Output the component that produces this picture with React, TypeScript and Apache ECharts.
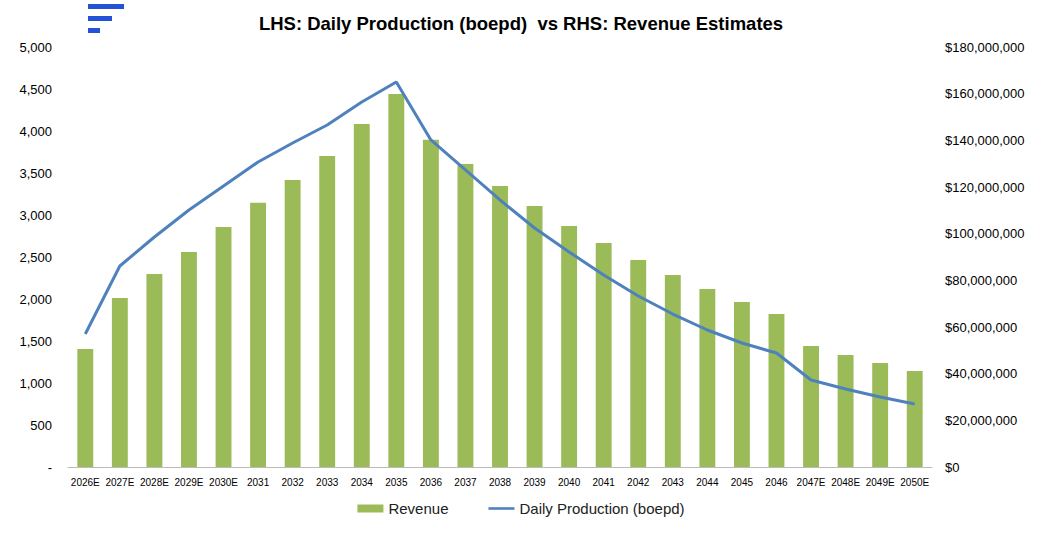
import { useEffect, useRef } from "react";
import * as echarts from "echarts";

const years = [
  "2026E", "2027E", "2028E", "2029E", "2030E", "2031", "2032", "2033", "2034", "2035",
  "2036", "2037", "2038", "2039", "2040", "2041", "2042", "2043", "2044", "2045",
  "2046", "2047E", "2048E", "2049E", "2050E",
];

// revenue, USD
const revenue = [
  50.6, 72.4, 82.7, 92.1, 102.9, 113.2, 123.0, 133.3, 147.0, 159.9,
  140.2, 129.9, 120.4, 111.9, 103.3, 96.0, 88.7, 82.3, 76.3, 70.7,
  65.6, 51.9, 48.0, 44.6, 41.1,
].map((v) => v * 1e6);

// daily production, boepd
const production = [
  1583, 2393, 2738, 3060, 3345, 3631, 3857, 4071, 4345, 4583,
  3893, 3536, 3179, 2845, 2560, 2286, 2036, 1821, 1631, 1476,
  1357, 1036, 929, 833, 750,
];

const font = "Liberation Sans, Arial, sans-serif";

export default function App() {
  const ref = useRef<HTMLDivElement | null>(null);

  useEffect(() => {
    if (!ref.current) return;
    const chart = echarts.init(ref.current, undefined, { renderer: "svg" });
    chart.setOption({
      animation: false,
      textStyle: { fontFamily: font },
      title: {
        text: "LHS: Daily Production (boepd)  vs RHS: Revenue Estimates",
        left: "center",
        top: 9,
        textStyle: { fontSize: 18.5, fontWeight: "bold", color: "#000", fontFamily: font },
      },
      graphic: [
        { type: "rect", shape: { x: 88, y: 4, width: 36, height: 5 }, style: { fill: "#2452d6" } },
        { type: "rect", shape: { x: 88, y: 16, width: 24, height: 5 }, style: { fill: "#2452d6" } },
        { type: "rect", shape: { x: 88, y: 28, width: 12, height: 5 }, style: { fill: "#2452d6" } },
      ],
      legend: {
        bottom: 12,
        left: "center",
        itemGap: 40,
        textStyle: { fontSize: 15, color: "#222", fontFamily: font },
        data: [
          { name: "Revenue", icon: "rect" },
          { name: "Daily Production (boepd)", icon: "path://M0,0H30V3H0Z" },
        ],
        itemWidth: 26,
        itemHeight: 8,
      },
      grid: { left: 68, right: 110, top: 47, bottom: 66 },
      xAxis: {
        type: "category",
        data: years,
        axisLine: { lineStyle: { color: "#bbb" } },
        axisTick: { show: false },
        axisLabel: { color: "#000", fontSize: 10, interval: 0, margin: 10 },
      },
      yAxis: [
        {
          type: "value",
          min: 0,
          max: 5000,
          interval: 500,
          splitLine: { show: false },
          axisLabel: {
            color: "#000",
            fontSize: 13,
            margin: 16,
            formatter: (v: number) => (v === 0 ? "-" : v.toLocaleString("en-US")),
          },
        },
        {
          type: "value",
          min: 0,
          max: 180e6,
          interval: 20e6,
          splitLine: { show: false },
          axisLabel: {
            color: "#000",
            fontSize: 13,
            margin: 13,
            formatter: (v: number) => "$" + v.toLocaleString("en-US"),
          },
        },
      ],
      series: [
        {
          name: "Revenue",
          type: "bar",
          yAxisIndex: 1,
          data: revenue,
          barWidth: "46%",
          itemStyle: { color: "#9bbb59" },
        },
        {
          name: "Daily Production (boepd)",
          type: "line",
          yAxisIndex: 0,
          data: production,
          symbol: "none",
          lineStyle: { color: "#4f81bd", width: 3 },
          itemStyle: { color: "#4f81bd" },
        },
      ],
    });
    return () => chart.dispose();
  }, []);

  return (
    <div
      ref={ref}
      style={{ position: "absolute", left: 0, top: 0, width: 1042, height: 533, background: "#fff" }}
    />
  );
}
